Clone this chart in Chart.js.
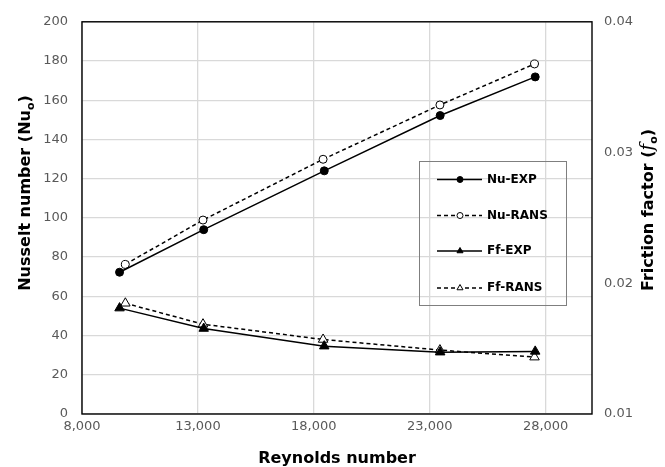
<!DOCTYPE html>
<html>
<head>
<meta charset="utf-8">
<script src="https://cdn.jsdelivr.net/npm/chart.js@4.4.1/dist/chart.umd.min.js"></script>
<style>
  html, body { margin: 0; padding: 0; background: #fff; }
  #wrap { width: 665px; height: 467px; }
</style>
</head>
<body>
<div id="wrap"><canvas id="c" width="665" height="467"></canvas></div>
<script>
// Reynolds numbers of the test points (experiment and RANS runs)
const reExp  = [9620, 13250, 18450, 23450, 27550];
const reRans = [9870, 13220, 18400, 23440, 27520];

// Nusselt number
const nuExp  = [72.3, 94.0, 124.0, 152.2, 171.9];
const nuRans = [76.3, 98.9, 129.9, 157.6, 178.5];

// Friction factor
const ffExp  = [0.0181, 0.01654, 0.01519, 0.01473, 0.01479];
const ffRans = [0.01847, 0.01687, 0.0157, 0.01489, 0.01435];

// Axis ticks
const reTicks = [8000, 13000, 18000, 23000, 28000];
const nuTicks = [0, 20, 40, 60, 80, 100, 120, 140, 160, 180, 200];
const ffTicks = [0.01, 0.02, 0.03, 0.04];

const seriesNames = ['Nu-EXP', 'Nu-RANS', 'Ff-EXP', 'Ff-RANS'];

const TICK_FONT = { family: 'DejaVu Sans', size: 13 };
const TICK_COLOR = '#595959';
const GRID_COLOR = '#d9d9d9';

function pts(xs, ys) { return xs.map((x, i) => ({ x: x, y: ys[i] })); }

function series(label, data, axis, dashed, style, filled) {
  return {
    label: label,
    data: data,
    yAxisID: axis,
    borderColor: '#000',
    borderWidth: 1.5,
    borderDash: dashed ? [4, 3] : [],
    pointStyle: style,
    pointRadius: style === 'triangle' ? 5.5 : 4,
    pointBackgroundColor: filled ? '#000' : '#fff',
    pointBorderColor: '#000',
    pointBorderWidth: 1,
    tension: 0,
    fill: false
  };
}

const datasets = [
  series(seriesNames[0], pts(reExp, nuExp), 'y', false, 'circle', true),
  series(seriesNames[1], pts(reRans, nuRans), 'y', true, 'circle', false),
  series(seriesNames[2], pts(reExp, ffExp), 'y1', false, 'triangle', true),
  series(seriesNames[3], pts(reRans, ffRans), 'y1', true, 'triangle', false)
];

// Frame around the plot area and the boxed legend inside it
const framePlugin = {
  id: 'frame',
  afterDatasetsDraw(chart) {
    const { ctx, chartArea: a } = chart;
    ctx.save();
    ctx.strokeStyle = '#000';
    ctx.lineWidth = 1.4;
    ctx.strokeRect(a.left, a.top, a.right - a.left, a.bottom - a.top);

    // legend box
    ctx.strokeStyle = '#7f7f7f';
    ctx.lineWidth = 1;
    ctx.strokeRect(419.5, 161.5, 147, 144);
    const rowsY = [179.5, 215.5, 251, 288];
    chart.data.datasets.forEach((ds, i) => {
      const y = rowsY[i];
      ctx.strokeStyle = '#000';
      ctx.lineWidth = 1.5;
      ctx.setLineDash(ds.borderDash);
      ctx.beginPath();
      ctx.moveTo(437, y);
      ctx.lineTo(482, y);
      ctx.stroke();
      ctx.setLineDash([]);
      ctx.fillStyle = ds.pointBackgroundColor;
      ctx.strokeStyle = '#000';
      ctx.lineWidth = 1;
      Chart.helpers.drawPoint(ctx, {
        pointStyle: ds.pointStyle,
        radius: ds.pointStyle === 'triangle' ? 3.5 : 3,
        rotation: 0,
        borderWidth: 1
      }, 460, y);
      ctx.fillStyle = '#000';
      ctx.font = 'bold 12px "DejaVu Sans"';
      ctx.textAlign = 'left';
      ctx.textBaseline = 'middle';
      ctx.fillText(ds.label, 487, y);
    });
    ctx.restore();
  }
};

// Axis titles with subscripts
function drawParts(ctx, parts, cx, cy, rotation) {
  ctx.save();
  ctx.translate(cx, cy);
  ctx.rotate(rotation);
  ctx.textBaseline = 'alphabetic';
  ctx.textAlign = 'left';
  let total = 0;
  parts.forEach(p => { ctx.font = p.font; p.w = ctx.measureText(p.text).width; total += p.w; });
  let x = -total / 2;
  parts.forEach(p => {
    ctx.font = p.font;
    ctx.fillStyle = '#000';
    ctx.fillText(p.text, x, p.dy || 0);
    x += p.w;
  });
  ctx.restore();
}

const titlePlugin = {
  id: 'titles',
  afterDraw(chart) {
    const ctx = chart.ctx;
    const B = 'bold 16px "DejaVu Sans"';
    const S = 'bold 11px "DejaVu Sans"';
    drawParts(ctx, [{ text: 'Reynolds number', font: B }], 337, 463, 0);
    drawParts(ctx, [
      { text: 'Nusselt number (Nu', font: B },
      { text: 'o', font: S, dy: 4 },
      { text: ')', font: B }
    ], 30, 193, -Math.PI / 2);
    drawParts(ctx, [
      { text: 'Friction factor (', font: B },
      { text: 'f', font: 'italic 18px "DejaVu Serif"' },
      { text: 'o', font: S, dy: 4 },
      { text: ')', font: B }
    ], 653, 210, -Math.PI / 2);
  }
};

new Chart(document.getElementById('c'), {
  type: 'line',
  data: { datasets: datasets },
  options: {
    responsive: false,
    animation: false,
    layout: { padding: { top: 21, left: 0, right: 0, bottom: 0 } },
    plugins: { legend: { display: false }, tooltip: { enabled: false } },
    scales: {
      x: {
        type: 'linear',
        min: 8000,
        max: 30000,
        afterBuildTicks: s => { s.ticks = reTicks.map(v => ({ value: v })); },
        afterFit: s => { s.height = 53; },
        ticks: {
          autoSkip: false, maxRotation: 0,
          font: TICK_FONT, color: TICK_COLOR, padding: 5,
          callback: v => v.toLocaleString('en-US')
        },
        grid: { color: GRID_COLOR, lineWidth: 1.3, drawTicks: false },
        border: { display: false }
      },
      y: {
        position: 'left',
        min: 0,
        max: 200,
        afterBuildTicks: s => { s.ticks = nuTicks.map(v => ({ value: v })); },
        afterFit: s => { s.width = 82; },
        ticks: { font: TICK_FONT, color: TICK_COLOR, padding: 14 },
        grid: { color: GRID_COLOR, lineWidth: 1.3, drawTicks: false },
        border: { display: false }
      },
      y1: {
        position: 'right',
        min: 0.01,
        max: 0.04,
        afterBuildTicks: s => { s.ticks = ffTicks.map(v => ({ value: v })); },
        afterFit: s => { s.width = 73; },
        ticks: { font: TICK_FONT, color: TICK_COLOR, padding: 12, callback: v => v.toFixed(2) },
        grid: { display: false, drawTicks: false },
        border: { display: false }
      }
    }
  },
  plugins: [framePlugin, titlePlugin]
});
</script>
</body>
</html>
